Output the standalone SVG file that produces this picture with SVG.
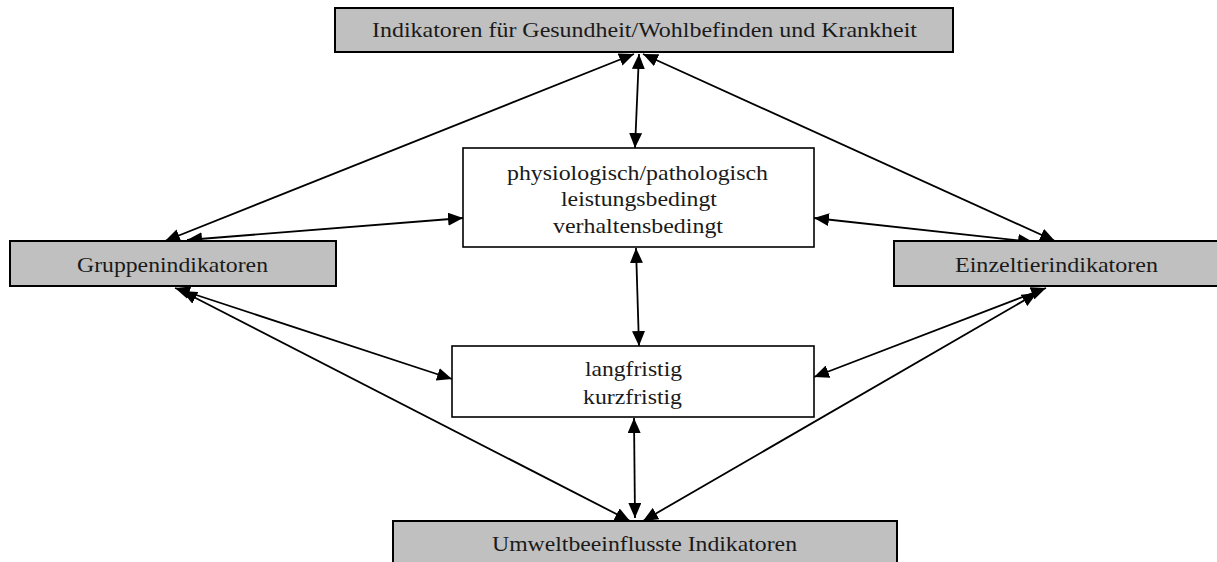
<svg xmlns="http://www.w3.org/2000/svg" width="1217" height="562" viewBox="0 0 1217 562">
<style>
.gray{fill:#c0c0c0;stroke:#000;stroke-width:2}
.white{fill:#fff;stroke:#000;stroke-width:1.6}
text{font-family:"Liberation Serif","Times New Roman",serif;font-size:21px;fill:#1a1a1a;text-anchor:middle}
.c line{stroke:#000;stroke-width:1.8;marker-start:url(#ah);marker-end:url(#ah)}
</style>
<defs>
<marker id="ah" viewBox="0 0 15 13" refX="15" refY="6.5" markerWidth="15" markerHeight="13" markerUnits="userSpaceOnUse" orient="auto-start-reverse">
<path d="M0,0 L15,6.5 L0,13 z" fill="#000"/>
</marker>
</defs>
<g class="c" id="connectors">
<line x1="165" y1="241" x2="634" y2="54"/>
<line x1="639" y1="54" x2="635" y2="148"/>
<line x1="643" y1="54" x2="1055" y2="241"/>
<line x1="187" y1="240" x2="463" y2="218"/>
<line x1="814" y1="218" x2="1033" y2="242"/>
<line x1="636" y1="248" x2="639" y2="346"/>
<line x1="175" y1="288" x2="452" y2="379"/>
<line x1="182" y1="291" x2="630" y2="521"/>
<line x1="814" y1="377" x2="1046" y2="288"/>
<line x1="1037" y1="293" x2="643" y2="521"/>
<line x1="634" y1="418" x2="635" y2="518"/>
</g>
<g id="top">
<rect class="gray" x="335" y="8" width="618" height="44"/>
<text x="644.5" y="37" textLength="545" lengthAdjust="spacingAndGlyphs">Indikatoren für Gesundheit/Wohlbefinden und Krankheit</text>
</g>
<g id="gruppen">
<rect class="gray" x="10" y="241" width="326" height="45"/>
<text x="172.5" y="272" textLength="191" lengthAdjust="spacingAndGlyphs">Gruppenindikatoren</text>
</g>
<g id="einzel">
<rect class="gray" x="894" y="241" width="324" height="45"/>
<text x="1056.5" y="272" textLength="203" lengthAdjust="spacingAndGlyphs">Einzeltierindikatoren</text>
</g>
<g id="umwelt">
<rect class="gray" x="393" y="521" width="504" height="50"/>
<text x="644.5" y="551" textLength="305" lengthAdjust="spacingAndGlyphs">Umweltbeeinflusste Indikatoren</text>
</g>
<g id="mid1">
<rect class="white" x="463" y="148" width="351" height="99"/>
<text x="637.5" y="180" textLength="261" lengthAdjust="spacingAndGlyphs">physiologisch/pathologisch</text>
<text x="639" y="206" textLength="156" lengthAdjust="spacingAndGlyphs">leistungsbedingt</text>
<text x="638" y="233" textLength="170" lengthAdjust="spacingAndGlyphs">verhaltensbedingt</text>
</g>
<g id="mid2">
<rect class="white" x="452" y="346" width="362" height="71"/>
<text x="633.5" y="376" textLength="97" lengthAdjust="spacingAndGlyphs">langfristig</text>
<text x="632.5" y="404" textLength="99" lengthAdjust="spacingAndGlyphs">kurzfristig</text>
</g>
</svg>
